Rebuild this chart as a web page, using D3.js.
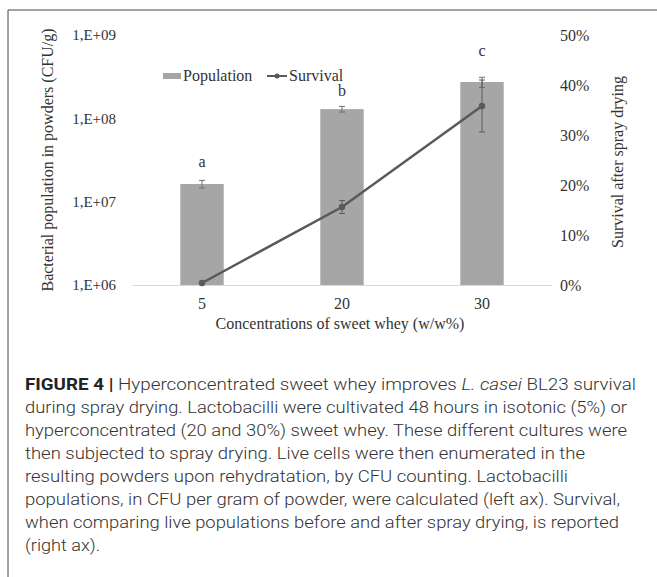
<!DOCTYPE html>
<html>
<head>
<meta charset="utf-8">
<script src="https://cdn.jsdelivr.net/npm/d3@7"></script>
<style>
  body { margin: 0; background: #fff; }
  svg { display: block; }
</style>
</head>
<body>
<script>
// data
const concentrations = ['5', '20', '30'];
const population = [1.63e7, 1.29e8, 2.73e8];
const populationErr = [1.7e6, 1.0e7, 3.8e7];
const survival = [0.004, 0.156, 0.358];
const survivalErr = [0.001, 0.013, 0.052];
const letters = ['a', 'b', 'c'];
const letterPos = [2.99e7, 2.13e8, 6.43e8];
const leftTicks = [1e6, 1e7, 1e8, 1e9];
const rightTicks = [0, 0.1, 0.2, 0.3, 0.4, 0.5];

const captionLines = [
  [['FIGURE 4 | ', 'b'], ['Hyperconcentrated sweet whey improves ', ''], ['L. casei', 'i'], [' BL23 survival', '']],
  [['during spray drying. Lactobacilli were cultivated 48 hours in isotonic (5%) or', '']],
  [['hyperconcentrated (20 and 30%) sweet whey. These different cultures were', '']],
  [['then subjected to spray drying. Live cells were then enumerated in the', '']],
  [['resulting powders upon rehydratation, by CFU counting. Lactobacilli', '']],
  [['populations, in CFU per gram of powder, were calculated (left ax). Survival,', '']],
  [['when comparing live populations before and after spray drying, is reported', '']],
  [['(right ax).', '']]
];
const captionWidths = [611, 602, 602, 560, 543, 595, 594, 75];

const width = 657, height = 577;
const plot = {left: 132, right: 552, top: 35, bottom: 285};
const serif = '"Liberation Serif", "Times New Roman", serif';
const textColor = '#333';

const svg = d3.select('body').append('svg')
  .attr('width', width)
  .attr('height', height);

// frame (top + left)
svg.append('line').attr('x1', 8).attr('x2', width).attr('y1', 10).attr('y2', 10)
  .attr('stroke', '#444').attr('stroke-width', 1);
svg.append('line').attr('x1', 8).attr('x2', 8).attr('y1', 10).attr('y2', height)
  .attr('stroke', '#444').attr('stroke-width', 1);

// scales
const x = d3.scaleBand()
  .domain(concentrations)
  .range([plot.left, plot.right])
  .paddingInner(0.69)
  .paddingOuter(0.345);
const xc = d => x(d) + x.bandwidth() / 2;

const yLeft = d3.scaleLog().domain([1e6, 1e9]).range([plot.bottom, plot.top]);
const yRight = d3.scaleLinear().domain([0, 0.5]).range([plot.bottom, plot.top]);

// bars
svg.selectAll('rect.bar')
  .data(concentrations)
  .enter()
  .append('rect')
  .attr('class', 'bar')
  .attr('fill', '#a6a6a6')
  .attr('x', d => x(d))
  .attr('width', x.bandwidth())
  .attr('y', (d, i) => yLeft(population[i]))
  .attr('height', (d, i) => plot.bottom - yLeft(population[i]));

// x axis
const xAxis = svg.append('g')
  .attr('transform', 'translate(0,' + plot.bottom + ')')
  .call(d3.axisBottom(x).tickSize(0).tickPadding(13));
xAxis.select('.domain').attr('stroke', '#d9d9d9').attr('stroke-width', 1);
xAxis.selectAll('text').attr('font-family', serif).attr('font-size', 16).attr('fill', textColor);

// left axis
const leftAxis = svg.append('g')
  .attr('transform', 'translate(' + plot.left + ',0)')
  .call(d3.axisLeft(yLeft).tickValues(leftTicks).tickSize(0).tickPadding(16)
    .tickFormat(d => '1,E+0' + Math.round(Math.log10(d))));
leftAxis.select('.domain').remove();
leftAxis.selectAll('text').attr('font-family', serif).attr('font-size', 15).attr('fill', textColor);

// right axis
const rightAxis = svg.append('g')
  .attr('transform', 'translate(' + plot.right + ',0)')
  .call(d3.axisRight(yRight).tickValues(rightTicks).tickSize(0).tickPadding(8)
    .tickFormat(d3.format('.0%')));
rightAxis.select('.domain').remove();
rightAxis.selectAll('text').attr('font-family', serif).attr('font-size', 16).attr('fill', textColor);

// error bars
function errorBars(cls, values, errs, y, color) {
  const g = svg.append('g').attr('stroke', color).attr('stroke-width', 1);
  concentrations.forEach((c, i) => {
    const cx = xc(c);
    const y1 = y(values[i] + errs[i]);
    const y2 = y(values[i] - errs[i]);
    g.append('line').attr('x1', cx).attr('x2', cx).attr('y1', y1).attr('y2', y2);
    g.append('line').attr('x1', cx - 3).attr('x2', cx + 3).attr('y1', y1).attr('y2', y1);
    g.append('line').attr('x1', cx - 3).attr('x2', cx + 3).attr('y1', y2).attr('y2', y2);
  });
}
errorBars('pop', population, populationErr, yLeft, '#6e6e6e');

// survival line
const line = d3.line()
  .x((d, i) => xc(concentrations[i]))
  .y(d => yRight(d));
svg.append('path')
  .datum(survival)
  .attr('fill', 'none')
  .attr('stroke', '#595959')
  .attr('stroke-width', 2.5)
  .attr('d', line);
errorBars('surv', survival, survivalErr, yRight, '#5a5a5a');
svg.selectAll('circle.pt')
  .data(survival)
  .enter()
  .append('circle')
  .attr('class', 'pt')
  .attr('cx', (d, i) => xc(concentrations[i]))
  .attr('cy', d => yRight(d))
  .attr('r', 3.2)
  .attr('fill', '#595959');

// significance letters
svg.selectAll('text.letter')
  .data(letters)
  .enter()
  .append('text')
  .attr('class', 'letter')
  .attr('x', (d, i) => xc(concentrations[i]))
  .attr('y', (d, i) => yLeft(letterPos[i]))
  .attr('dy', '0.3em')
  .attr('text-anchor', 'middle')
  .attr('font-family', serif)
  .attr('font-size', 16)
  .attr('fill', textColor)
  .text(d => d);

// legend
const legend = svg.append('g').attr('font-family', serif).attr('font-size', 16).attr('fill', textColor);
legend.append('rect').attr('x', 163).attr('y', 73).attr('width', 18).attr('height', 6).attr('fill', '#a6a6a6');
legend.append('text').attr('x', 183).attr('y', 81).text('Population');
legend.append('line').attr('x1', 267).attr('x2', 287).attr('y1', 76).attr('y2', 76)
  .attr('stroke', '#595959').attr('stroke-width', 2);
legend.append('circle').attr('cx', 277).attr('cy', 76).attr('r', 2.5).attr('fill', '#595959');
legend.append('text').attr('x', 289).attr('y', 81).text('Survival');

// axis titles
svg.append('text')
  .attr('transform', 'translate(53,160) rotate(-90)')
  .attr('text-anchor', 'middle')
  .attr('font-family', serif).attr('font-size', 16).attr('fill', textColor)
  .text('Bacterial population in powders (CFU/g)');
svg.append('text')
  .attr('transform', 'translate(623,162) rotate(-90)')
  .attr('text-anchor', 'middle')
  .attr('font-family', serif).attr('font-size', 16).attr('fill', textColor)
  .text('Survival after spray drying');
svg.append('text')
  .attr('x', 340).attr('y', 329)
  .attr('text-anchor', 'middle')
  .attr('font-family', serif).attr('font-size', 16).attr('fill', textColor)
  .text('Concentrations of sweet whey (w/w%)');

// caption
const caption = svg.append('g')
  .attr('font-family', 'Roboto, "Liberation Sans", sans-serif')
  .attr('font-size', 16.5)
  .attr('font-weight', 300)
  .attr('fill', '#333');
captionLines.forEach((parts, i) => {
  const t = caption.append('text')
    .attr('x', 25)
    .attr('y', 390 + i * 23)
    .attr('textLength', captionWidths[i])
    .attr('lengthAdjust', 'spacingAndGlyphs');
  parts.forEach(p => {
    const s = t.append('tspan').text(p[0]);
    if (p[1] === 'b') s.attr('font-weight', 700).attr('fill', '#222');
    if (p[1] === 'i') s.attr('font-style', 'italic');
  });
});
</script>
</body>
</html>
